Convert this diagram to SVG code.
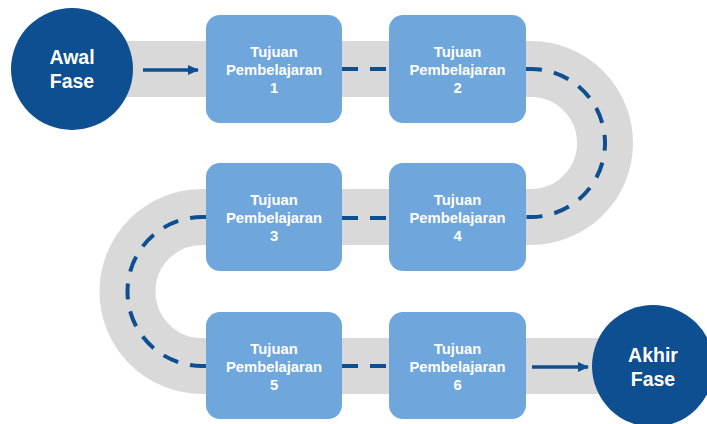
<svg xmlns="http://www.w3.org/2000/svg" width="707" height="424" viewBox="0 0 707 424">
  <style>
    .road { fill: none; stroke: #d9d9d9; stroke-width: 56; }
    .dash { fill: none; stroke: #0d4f91; stroke-width: 4; stroke-dasharray: 16 12; }
    .arrow { fill: none; stroke: #0d4f91; stroke-width: 3.5; }
    .box { fill: #6fa6dc; }
    .circ { fill: #0d4f91; }
    .bt { font-family: "Liberation Sans", Arial, sans-serif; font-weight: bold; font-size: 14.8px; fill: #ffffff; text-anchor: middle; }
    .ct { font-family: "Liberation Sans", Arial, sans-serif; font-weight: bold; font-size: 19.5px; fill: #ffffff; text-anchor: middle; }
  </style>
  <defs>
    <marker id="ah" markerWidth="11" markerHeight="10" refX="10" refY="5" orient="auto" markerUnits="userSpaceOnUse">
      <path d="M0,0 L11,5 L0,10 Z" fill="#0d4f91"/>
    </marker>
  </defs>
  <rect width="707" height="424" fill="#ffffff"/>
  <g id="connectors">
    <path class="road" d="M 100 69 H 531 A 74 74 0 0 1 531 217 H 202 A 74.5 74.5 0 0 0 202 366 H 650"/>
    <line class="dash" x1="342" y1="69" x2="389" y2="69"/>
    <path class="dash" d="M 526 69 H 531 A 74 74 0 0 1 531 217 H 526" style="stroke-dasharray: 16 12.2"/>
    <line class="dash" x1="342" y1="218" x2="389" y2="218"/>
    <path class="dash" d="M 206 217 H 202 A 74.5 74.5 0 0 0 202 366 H 206" style="stroke-dasharray: 16 12.2"/>
    <line class="dash" x1="342" y1="366" x2="389" y2="366"/>
    <line class="arrow" x1="143" y1="70" x2="198" y2="70" marker-end="url(#ah)"/>
    <line class="arrow" x1="532" y1="367" x2="588" y2="367" marker-end="url(#ah)"/>
  </g>
  <g id="awal">
    <circle class="circ" cx="72" cy="69" r="61"/>
    <text class="ct" x="72" y="64">Awal</text>
    <text class="ct" x="72" y="88">Fase</text>
  </g>
  <g id="tp1">
    <rect class="box" x="206" y="15" width="136" height="108" rx="14"/>
    <text class="bt" x="274" y="57">Tujuan</text>
    <text class="bt" x="274" y="75">Pembelajaran</text>
    <text class="bt" x="274" y="93">1</text>
  </g>
  <g id="tp2">
    <rect class="box" x="389" y="15" width="137" height="108" rx="14"/>
    <text class="bt" x="457.5" y="57">Tujuan</text>
    <text class="bt" x="457.5" y="75">Pembelajaran</text>
    <text class="bt" x="457.5" y="93">2</text>
  </g>
  <g id="tp3">
    <rect class="box" x="206" y="163" width="136" height="108" rx="14"/>
    <text class="bt" x="274" y="205">Tujuan</text>
    <text class="bt" x="274" y="223">Pembelajaran</text>
    <text class="bt" x="274" y="241">3</text>
  </g>
  <g id="tp4">
    <rect class="box" x="389" y="163" width="137" height="108" rx="14"/>
    <text class="bt" x="457.5" y="205">Tujuan</text>
    <text class="bt" x="457.5" y="223">Pembelajaran</text>
    <text class="bt" x="457.5" y="241">4</text>
  </g>
  <g id="tp5">
    <rect class="box" x="206" y="312" width="136" height="107" rx="14"/>
    <text class="bt" x="274" y="354">Tujuan</text>
    <text class="bt" x="274" y="372">Pembelajaran</text>
    <text class="bt" x="274" y="390">5</text>
  </g>
  <g id="tp6">
    <rect class="box" x="389" y="312" width="137" height="107" rx="14"/>
    <text class="bt" x="457.5" y="354">Tujuan</text>
    <text class="bt" x="457.5" y="372">Pembelajaran</text>
    <text class="bt" x="457.5" y="390">6</text>
  </g>
  <g id="akhir">
    <circle class="circ" cx="653" cy="366" r="61"/>
    <text class="ct" x="653" y="362">Akhir</text>
    <text class="ct" x="653" y="386">Fase</text>
  </g>
</svg>
